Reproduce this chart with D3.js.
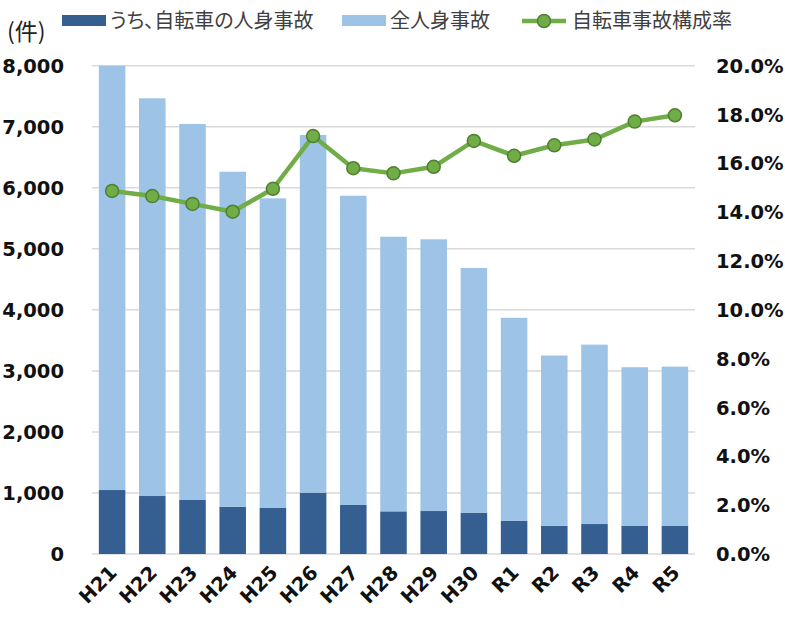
<!DOCTYPE html>
<html>
<head>
<meta charset="utf-8">
<script src="https://cdn.jsdelivr.net/npm/d3@7"></script>
<style>
  body { margin: 0; background: #fff; }
  .tick-label { font-family: "DejaVu Sans", Verdana, sans-serif; font-weight: bold; font-size: 19.5px; fill: #111; }
  .legend-text { font-family: "Noto Sans CJK JP", sans-serif; font-size: 20px; fill: #404040; font-feature-settings: "palt"; }
</style>
</head>
<body>
<div id="chart"></div>
<script>
// data
var years = ["H21","H22","H23","H24","H25","H26","H27","H28","H29","H30","R1","R2","R3","R4","R5"];
var bikeAcc = [1048, 950, 885, 775, 754, 1005, 803, 699, 704, 677, 541, 462, 491, 459, 459];
var allAcc = [7048, 6516, 6160, 5488, 5073, 5859, 5067, 4499, 4452, 4009, 3329, 2790, 2939, 2601, 2611];
var bikeRate = [14.87, 14.66, 14.34, 14.02, 14.96, 17.12, 15.80, 15.59, 15.86, 16.92, 16.31, 16.74, 16.98, 17.71, 17.97];
var leftTicks = [0,1000,2000,3000,4000,5000,6000,7000,8000];
var rightTicks = [0,2,4,6,8,10,12,14,16,18,20];
var seriesNames = ["うち、自転車の人身事故", "全人身事故", "自転車事故構成率"];

const W = 785, H = 619;
const plot = {l: 92, r: 695, t: 65.7, b: 554};
const col = {dark: "#365F91", light: "#9DC3E6", line: "#70AD47", lineEdge: "#507E32", grid: "#D9D9D9"};

var svg = d3.select("#chart").append("svg")
  .attr("width", W).attr("height", H);

var x = d3.scaleBand().domain(years).range([plot.l, plot.r])
  .paddingInner(0.34).paddingOuter(0.17);
var yL = d3.scaleLinear().domain([0, 8000]).range([plot.b, plot.t]);
var yR = d3.scaleLinear().domain([0, 20]).range([plot.b, plot.t]);

// gridlines
svg.append("g").selectAll("line").data(leftTicks).enter().append("line")
  .attr("x1", plot.l).attr("x2", plot.r)
  .attr("y1", d => yL(d)).attr("y2", d => yL(d))
  .attr("stroke", col.grid).attr("stroke-width", 1.5);

svg.append("clipPath").attr("id", "clip").append("rect")
  .attr("x", 0).attr("y", plot.t).attr("width", W).attr("height", plot.b - plot.t);

// stacked bars
var stacked = years.map((y, i) => ({year: y, bike: bikeAcc[i], all: allAcc[i]}));
var series = d3.stack().keys(["bike", "all"])(stacked);
var bars = svg.append("g").attr("clip-path", "url(#clip)");
bars.selectAll("g").data(series).enter().append("g")
  .attr("fill", (d, i) => i == 0 ? col.dark : col.light)
  .selectAll("rect").data(d => d).enter().append("rect")
    .attr("x", d => x(d.data.year))
    .attr("width", x.bandwidth())
    .attr("y", d => yL(d[1]))
    .attr("height", d => yL(d[0]) - yL(d[1]));

// line
var cx = d => x(d) + x.bandwidth() / 2;
var lineGen = d3.line().x((d, i) => cx(years[i])).y(d => yR(d));
svg.append("path").datum(bikeRate)
  .attr("d", lineGen).attr("fill", "none")
  .attr("stroke", col.line).attr("stroke-width", 4.5).attr("stroke-linejoin", "round");
svg.append("g").selectAll("circle").data(bikeRate).enter().append("circle")
  .attr("cx", (d, i) => cx(years[i])).attr("cy", d => yR(d)).attr("r", 6.5)
  .attr("fill", col.line).attr("stroke", col.lineEdge).attr("stroke-width", 1.5);

// left axis labels
svg.append("g").selectAll("text").data(leftTicks).enter().append("text")
  .attr("class", "tick-label")
  .attr("x", 64).attr("y", d => yL(d)).attr("dy", "0.36em")
  .attr("text-anchor", "end")
  .text(d => d3.format(",")(d));

// right axis labels
svg.append("g").selectAll("text").data(rightTicks).enter().append("text")
  .attr("class", "tick-label")
  .attr("x", 716).attr("y", d => yR(d)).attr("dy", "0.36em")
  .text(d => d.toFixed(1) + "%");

// category labels
svg.append("g").selectAll("text").data(years).enter().append("text")
  .attr("class", "tick-label")
  .attr("text-anchor", "end")
  .attr("transform", d => "translate(" + (cx(d) + 6) + "," + 574 + ") rotate(-45)")
  .text(d => d);

// legend
var lg = svg.append("g");
lg.append("text").attr("class", "legend-text").attr("x", 7).attr("y", 40)
  .style("fill", "#222").style("font-size", "23px").text("(件)");
lg.append("rect").attr("x", 62).attr("y", 15).attr("width", 44).attr("height", 11).attr("fill", col.dark);
lg.append("text").attr("class", "legend-text").attr("x", 110).attr("y", 28).text(seriesNames[0]);
lg.append("rect").attr("x", 342).attr("y", 15).attr("width", 44).attr("height", 11).attr("fill", col.light);
lg.append("text").attr("class", "legend-text").attr("x", 390).attr("y", 28).text(seriesNames[1]);
lg.append("line").attr("x1", 522).attr("x2", 566).attr("y1", 21).attr("y2", 21)
  .attr("stroke", col.line).attr("stroke-width", 4.5);
lg.append("circle").attr("cx", 544).attr("cy", 21).attr("r", 6.5)
  .attr("fill", col.line).attr("stroke", col.lineEdge).attr("stroke-width", 1.5);
lg.append("text").attr("class", "legend-text").attr("x", 572).attr("y", 28).text(seriesNames[2]);
</script>
</body>
</html>
